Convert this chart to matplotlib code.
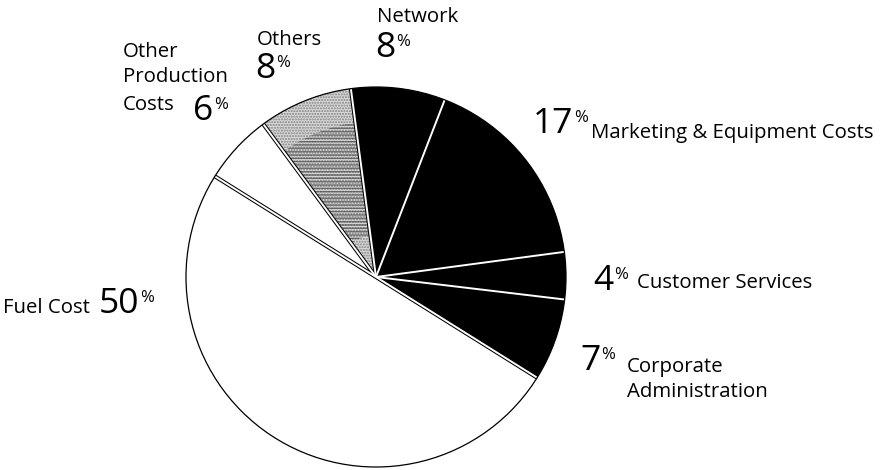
import numpy as np
import matplotlib
matplotlib.use("Agg")
import matplotlib.pyplot as plt
from matplotlib.patches import Wedge, Circle

# Cost breakdown, listed clockwise starting from the upper-left boundary
categories = ["Other Production Costs", "Others", "Network",
              "Marketing & Equipment Costs", "Customer Services",
              "Corporate Administration", "Fuel Cost"]
shares = [6, 8, 8, 17, 4, 7, 50]
fills = ["white", "#d9d9d9", "black", "black", "black", "black", "white"]

plt.rcParams["font.family"] = ["Open Sans", "DejaVu Sans"]

W, H = 884, 470
R = 190.0            # pie radius in pixels
CX, CY = 376, 277    # pie centre in pixels


def P(x, y):
    """Pixel position (from top-left) -> data coordinates (pie radius = 1)."""
    return (x - CX) / R, (CY - y) / R


fig = plt.figure(figsize=(W / 100, H / 100), dpi=100)
ax = fig.add_axes([0, 0, 1, 1])

wedges, _ = ax.pie(shares, colors=fills, startangle=148, counterclock=False,
                   radius=1, wedgeprops=dict(edgecolor="none", linewidth=0))

ax.set_xlim(-CX / R, (W - CX) / R)
ax.set_ylim(-(H - CY) / R, CY / R)
ax.set_aspect("equal")
ax.axis("off")

# stippled texture for "Others", denser through the middle
w = wedges[1]
ax.add_patch(Wedge((0, 0), 1, w.theta1, w.theta2, facecolor="none",
                   edgecolor="#808080", hatch="......", linewidth=0, zorder=2))
ax.add_patch(Wedge((0, 0), 0.82, w.theta1, w.theta2, width=0.6,
                   facecolor="none", edgecolor="#404040", hatch="-----",
                   linewidth=0, zorder=2, alpha=0.65))

# separators: black rule with a white core along every wedge boundary
for wd in wedges:
    t = np.deg2rad(wd.theta1)
    xs, ys = [0, np.cos(t)], [0, np.sin(t)]
    ax.plot(xs, ys, color="black", lw=2.9, solid_capstyle="butt", zorder=3)
    ax.plot(xs, ys, color="white", lw=1.4, solid_capstyle="butt", zorder=4)

ax.add_patch(Circle((0, 0), 1, fill=False, edgecolor="black", lw=0.9, zorder=5))

NAME = 14.7
NUM = 25.5
PCT = 12


def number(x, y, value):
    t = ax.text(*P(x, y), f"{value}", fontsize=NUM, ha="left", va="baseline")
    ax.annotate("%", xy=(1, 1), xycoords=t, xytext=(0.5, -2.5),
                textcoords="offset points", fontsize=PCT, ha="left", va="top")
    return t


def name(x, y, s):
    ax.text(*P(x, y), s, fontsize=NAME, ha="left", va="baseline")


# Network
name(377, 22, "Network")
number(375, 57, shares[2])
# Others
name(257, 45, "Others")
number(255, 78, shares[1])
# Other Production Costs
name(123, 57, "Other")
name(123, 82, "Production")
name(123, 110, "Costs")
number(193, 120, shares[0])
# Marketing & Equipment Costs
number(533, 133, shares[3])
name(591, 138, "Marketing & Equipment Costs")
# Customer Services
number(593, 290, shares[4])
name(637, 288, "Customer Services")
# Corporate Administration
number(580, 370, shares[5])
name(627, 372, "Corporate")
name(627, 397, "Administration")
# Fuel Cost
name(3, 313, "Fuel Cost")
number(99, 313, shares[6])

fig.savefig("out.png", dpi=100, facecolor="white")
